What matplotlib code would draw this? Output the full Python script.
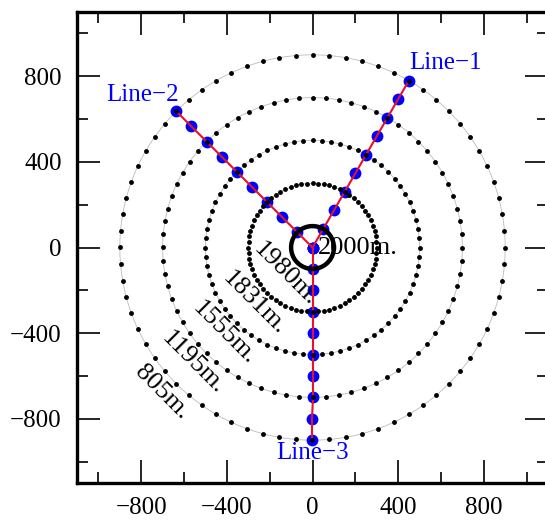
import numpy as np
import matplotlib.pyplot as plt
from matplotlib.ticker import MultipleLocator

plt.rcParams['font.family'] = ['Liberation Serif', 'DejaVu Serif']
plt.rcParams['axes.unicode_minus'] = True

# survey lines (angle in degrees from +x)
line_names = ['Line\u22121', 'Line\u22122', 'Line\u22123']
line_angles = [60, 135, 270]
station_r = [0, 100, 200, 300, 400, 500, 600, 700, 800, 900]

# dotted rings
ring_r = [300, 500, 700, 900]
ring_dots = [72, 72, 72, 72]
inner_ring_r = 100

# depth labels per radius
depth_r = [0, 100, 300, 500, 700, 900]
depth_labels = ['2000m.', '1980m.', '1831m.', '1555m.', '1195m.', '805m.']

fig = plt.figure(figsize=(5.45, 5.21), dpi=100)
ax = fig.add_axes([77 / 545, 38 / 521, 471 / 545, 471 / 521])

red = '#e8102a'
blue = '#0000ff'

# stations and lines
for name, ang in zip(line_names, line_angles):
    a = np.deg2rad(ang)
    r = np.array(station_r)
    x = r * np.cos(a)
    y = r * np.sin(a)
    ax.plot(x, y, 'o', color=blue, ms=8.5, mec='none', zorder=2)
    ax.plot(x, y, '-', color=red, lw=1.5, zorder=3)

# rings
t_full = np.linspace(0, 2 * np.pi, 400)
for r, n in zip(ring_r, ring_dots):
    ax.plot(r * np.cos(t_full), r * np.sin(t_full), color='#bbbbbb',
            lw=0.6, zorder=1)
    t = np.deg2rad(np.arange(n) * 360 / n)
    ax.plot(r * np.cos(t), r * np.sin(t), 'o', color='black', ms=3.5,
            mec='none', zorder=4)

ax.plot(inner_ring_r * np.cos(t_full), inner_ring_r * np.sin(t_full),
        color='black', lw=3.2, zorder=5)

# line labels
ends = [(station_r[-1] * np.cos(np.deg2rad(a)),
         station_r[-1] * np.sin(np.deg2rad(a))) for a in line_angles]
ax.annotate(line_names[0], ends[0], xytext=(0, 13), textcoords='offset points',
            ha='left', va='center', color=blue, fontsize=18)
ax.annotate(line_names[1], ends[1], xytext=(2, 12), textcoords='offset points',
            ha='right', va='center', color=blue, fontsize=18)
ax.annotate(line_names[2], ends[2], xytext=(0, -9), textcoords='offset points',
            ha='center', va='center', color=blue, fontsize=18)

# depth labels
ax.annotate(depth_labels[0], (0, 0), xytext=(4, 0), textcoords='offset points',
            ha='left', va='center', fontsize=19, zorder=6)
lab_ang = np.deg2rad(224)
for r, lab in zip(depth_r[1:], depth_labels[1:]):
    rr = r + 76
    ax.text(rr * np.cos(lab_ang), rr * np.sin(lab_ang), lab, rotation=-45,
            rotation_mode='anchor', ha='center', va='center', fontsize=19,
            zorder=6)

ax.set_xlim(-1100, 1100)
ax.set_ylim(-1100, 1100)
ax.xaxis.set_major_locator(MultipleLocator(400))
ax.yaxis.set_major_locator(MultipleLocator(400))
ax.xaxis.set_minor_locator(MultipleLocator(200))
ax.yaxis.set_minor_locator(MultipleLocator(200))
ax.tick_params(which='both', direction='in', top=True, right=True,
               labelsize=18, width=1.2)
ax.tick_params(which='major', length=16.5, pad=11)
ax.tick_params(axis='x', which='major', pad=10)
ax.tick_params(which='minor', length=8)
for s in ax.spines.values():
    s.set_linewidth(2.4)
ax.spines['right'].set_visible(False)

fig.savefig('out.png', dpi=100)
